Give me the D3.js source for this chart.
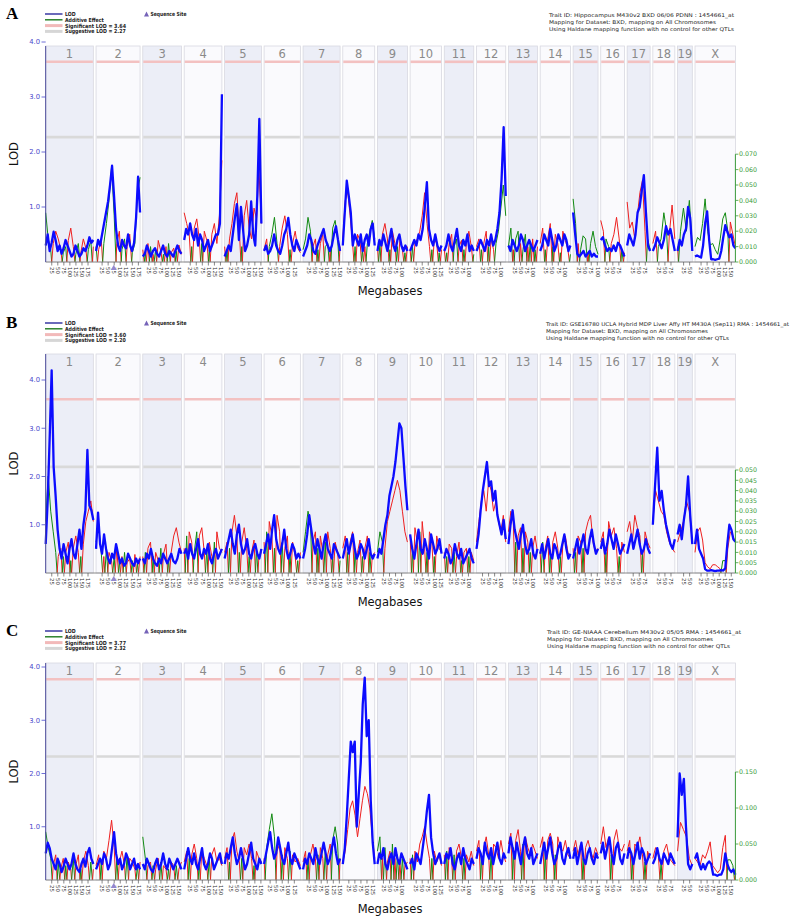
<!DOCTYPE html>
<html>
<head>
<meta charset="utf-8">
<script src="https://cdn.jsdelivr.net/npm/d3@7"></script>
<style>
  body { margin: 0; background: #fff; }
  svg { display: block; }
  text { font-family: "DejaVu Sans", Verdana, sans-serif; }
</style>
</head>
<body>
<svg id="chart" width="800" height="917"></svg>
<script>
const chromosomes = ["1","2","3","4","5","6","7","8","9","10","11","12","13","14","15","16","17","18","19","X"];
const chrLengths = [197,182,160,156,152,150,153,132,124,130,122,121,120,125,103,98,95,91,61,167]; // Mb
const mbTicks = [25,50,75,100,125,150,175];
const lodTicks = [1,2,3,4];
const sequenceSite = {chr: 1, mb: 73}; // index into chromosomes

// LOD profiles, one array per chromosome, evenly spaced along it
const lodA = [
  [.3,.5,.2,.35,.55,.4,.2,.3,.15,.25,.4,.3,.2,.1,.15,.3,.2,.1,.15,.25,.2,.3,.45,.35,.4],
  [.2,.4,.3,.5,.7,.9,1.1,1.4,1.75,1.2,.6,.3,.2,.4,.3,.25,.5,.3,.2,.35,.8,1.55,.9],
  [.1,.15,.3,.2,.1,.2,.25,.15,.1,.2,.3,.15,.1,.2,.15,.1,.2,.3,.2,.15],
  [.4,.6,.5,.7,.5,.4,.6,.3,.5,.4,.2,.3,.4,.2,.3,.4,.5,.5,.7,3.05],
  [.1,.2,.3,.2,.5,.8,1.05,.4,1.0,.6,.2,.3,.5,1.1,.5,.3,1.2,2.6,.7],
  [.2,.3,.15,.2,.3,.5,.3,.2,.15,.3,.5,.6,.8,.5,.3,.2,.4,.3,.2],
  [.1,.2,.3,.5,.4,.2,.15,.3,.4,.5,.6,.4,.3,.2,.3,.5,.65,.4,.2],
  [.3,.9,1.48,1.2,.9,.3,.5,.4,.3,.5,.2,.4,.5,.3,.6,.7,.3],
  [.2,.4,.3,.5,.35,.2,.4,.6,.3,.2,.4,.5,.3,.2,.3,.2],
  [.2,.3,.4,.3,.5,.4,.6,1.0,1.45,.6,.4,.3,.5,.3,.2,.3],
  [.2,.3,.5,.3,.2,.4,.6,.3,.2,.4,.3,.5,.2,.3,.2],
  [.2,.3,.4,.3,.2,.4,.3,.5,.3,.4,.6,.9,1.5,2.45,1.2],
  [.3,.2,.4,.3,.2,.3,.5,.4,.2,.3,.4,.3,.2,.3,.4],
  [.2,.3,.5,.4,.3,.6,.4,.2,.3,.5,.4,.3,.5,.4,.2,.3],
  [.9,.5,.15,.1,.15,.2,.1,.15,.2,.1,.15,.1,.1],
  [.4,.45,.3,.2,.25,.2,.3,.2,.35,.3,.2,.1],
  [.3,.5,.4,.3,.5,.9,1.0,1.3,1.58,.9,.3,.2],
  [.2,.3,.45,.35,.25,.4,.65,.5,.6,.4,.2],
  [.2,.4,.3,.5,.6,1.0,.8,.2],
  [.1,.12,.1,.08,.3,.7,.92,.4,.05,.05,.04,.05,.06,.2,.45,.67,.55,.45,.5,.3,.25]
];
// additive effect x 0.001 (positive red, negative green)
const addA = [
  [-32,-15,-8,12,20,15,8,-6,-10,14,22,10,-5,-12,6,15,9,-8,-14,10],
  [-10,8,15,-12,-25,-40,-62,-30,12,20,-8,-15,10,18,-6,-12,-45,-55],
  [8,-6,12,-10,5,-8,14,7,-5,10,-12,6,9,-7,11,5],
  [32,25,18,-10,22,28,15,-12,20,14,-8,18,25,12,30,66],
  [10,-8,15,25,38,45,20,-10,30,40,22,15,35,28,60,25],
  [8,15,-10,-18,-29,-12,10,22,30,18,-8,12,20,9,6],
  [-8,-15,-29,-20,10,15,-8,12,18,-10,-12,8,-22,-27,-15,10],
  [15,40,46,30,12,-10,18,14,-8,10,-12,-20,-27,-15],
  [10,-12,18,25,15,-8,20,12,-10,15,8,-6,10],
  [8,-10,12,15,20,30,45,25,10,-8,15,12,-6,8],
  [8,-6,12,18,-10,-15,10,14,-8,12,20,10,-5],
  [10,15,-8,12,20,-10,15,8,-12,-20,-35,-50,-30],
  [-10,-22,8,-15,-20,12,-8,-18,10,-12,15,-8,10],
  [12,22,-8,15,25,-10,18,12,-6,20,14,8,-5],
  [-41,-25,12,-8,-17,-15,6,-12,-20,-10,-5],
  [27,20,-15,-10,12,18,29,15,-8,6],
  [39,22,26,15,30,45,53,20,-15,-8],
  [12,20,-10,-15,-32,-20,18,37,15],
  [10,-20,-35,-20,-40,-10],
  [-10,-16,-14,-25,-41,-20,-11,-12,-8,-5,-15,-28,-32,-20,26,18,10]
];

const lodB = [
  [.6,1.5,2.8,4.2,2.2,1.6,.9,.5,.3,.6,.4,.2,.5,.7,.4,.3,.6,.9,.5,1.0,1.3,2.55,1.4,1.3,1.1],
  [.5,1.25,.6,.4,.8,.5,.3,.2,.4,.3,.6,.4,.2,.3,.15,.2,.4,.3,.2,.15,.3,.2,.3],
  [.3,.2,.4,.3,.5,.3,.2,.15,.3,.2,.4,.3,.2,.3,.4,.25,.2,.3,.5,.4],
  [.4,.5,.3,.6,.4,.3,.5,.7,.4,.3,.5,.4,.6,.3,.2,.4,.5,.3,.4,.5],
  [.3,.5,.7,.9,.6,.4,.8,1.0,.6,.4,.5,.7,.4,.3,.5,.6,.4,.3,.5],
  [.4,.6,.8,.5,.9,1.2,.7,.5,.4,.6,.9,.5,.3,.4,.6,.5,.3,.4,.3],
  [.3,.5,.8,1.2,.9,.6,.4,.7,.5,.3,.6,.8,.5,.4,.3,.6,.5,.4,.3],
  [.3,.5,.7,.4,.6,.8,.5,.3,.4,.6,.5,.3,.5,.7,.4,.3,.4],
  [.3,.5,.4,.7,1.0,1.2,1.6,1.8,2.0,2.3,2.7,3.1,3.0,2.4,1.8,1.3],
  [.8,.5,.3,.6,.9,.5,.4,.7,.5,.3,.8,.6,.4,.5,.7,.4],
  [.3,.5,.4,.2,.3,.6,.4,.3,.5,.2,.3,.4,.5,.3,.2],
  [.5,.8,1.3,1.7,2.0,2.3,1.8,1.9,1.5,1.7,1.2,1.0,.8,1.1,.7],
  [.6,1.0,1.3,.9,.7,.5,.8,1.0,.6,.4,.5,.7,.4,.3,.5],
  [.4,.6,.3,.5,.7,.4,.3,.6,.5,.3,.4,.6,.8,.5,.3,.4],
  [.3,.5,.7,.4,.6,.8,.5,.4,.7,.9,.6,.4,.5],
  [.5,.7,.4,.6,.9,.7,.5,.8,.6,.4,.5,.6],
  [.4,.6,.8,.5,.7,.9,.6,.4,.5,.7,.5,.4],
  [1.0,1.8,2.6,1.5,1.7,1.3,1.0,.8,.6,.5,.7],
  [.8,1.0,.7,1.1,1.4,2.0,1.2,.6],
  [.6,.9,.5,.4,.3,.08,.05,.05,.06,.05,.04,.05,.05,.06,.05,.1,.6,1.0,.9,.7,.65]
];
const addB = [
  [-25,-47,-30,-20,-10,8,12,-8,10,15,-6,12,18,10,-8,14,25,30,35,25],
  [-15,-23,-10,8,-12,10,6,-8,12,-6,8,-10,5,7,-6,9,-5,8],
  [8,-10,12,15,-8,10,6,-12,9,14,-7,10,18,22,15,10],
  [12,-18,20,15,-10,-20,18,22,10,-12,15,8,-15,20,12,10],
  [10,15,-12,20,28,18,-10,15,22,12,-8,10,16,-12,8,10],
  [15,-20,25,18,-12,28,20,-15,12,18,-10,15,8,-6,10],
  [-10,-20,-30,-25,15,20,-12,18,10,-15,20,12,-8,15,10,-6],
  [12,18,-10,15,20,-12,10,16,-8,12,18,-10,8,10],
  [-10,-20,-15,12,25,30,35,40,45,40,30,20,15],
  [18,-12,22,15,-20,25,12,-10,20,15,-8,18,12,10],
  [10,-8,14,12,-10,8,15,-6,10,12,-8,10,6],
  [15,25,35,40,30,45,40,30,35,25,20,28,15],
  [20,30,25,-15,18,22,-12,20,15,-10,12,18,10],
  [10,-15,12,18,-10,15,20,12,-8,14,18,10,8],
  [12,-10,18,15,-12,20,25,28,15,10,12],
  [15,20,-10,25,18,22,12,-8,15,10],
  [20,25,15,28,22,18,-10,20,15,12],
  [25,40,35,30,28,20,15,12,10],
  [15,20,25,35,30,15],
  [10,20,22,16,5,3,2,4,4,3,2,-6,-6,12,20,18,15]
];

const lodC = [
  [.5,.7,.6,.4,.3,.2,.4,.3,.15,.25,.4,.3,.2,.3,.5,.3,.2,.15,.3,.4,.25,.5,.6,.4,.3],
  [.2,.3,.4,.3,.5,.4,.2,.3,.6,.9,.5,.3,.4,.2,.3,.5,.4,.2,.3,.4,.2,.3,.2],
  [.3,.2,.4,.3,.2,.15,.3,.4,.2,.3,.5,.3,.2,.4,.3,.2,.3,.4,.3,.2],
  [.2,.4,.6,.4,.3,.5,.3,.2,.4,.6,.3,.2,.3,.5,.4,.2,.3,.4,.5,.3],
  [.3,.5,.4,.6,.8,.5,.3,.4,.6,.4,.2,.3,.5,.7,.4,.3,.2,.4,.3],
  [.3,.5,.7,.9,.6,.4,.5,.8,.6,.4,.3,.5,.7,.4,.3,.5,.4,.3,.2],
  [.2,.4,.3,.5,.4,.3,.6,.4,.3,.5,.7,.5,.3,.4,.6,.8,.5,.3,.4],
  [.3,.6,1.2,1.9,2.6,2.4,2.6,1.0,1.6,2.2,3.3,3.8,2.7,3.0,1.5,.7,.3],
  [.3,.5,.4,.6,.3,.2,.4,.5,.3,.6,.4,.3,.5,.4,.3,.2],
  [.3,.4,.2,.5,.4,.3,.6,.9,1.3,1.6,.8,.5,.3,.4,.5,.3],
  [.3,.5,.4,.6,.3,.2,.4,.5,.3,.6,.4,.3,.2,.4,.3],
  [.4,.6,.5,.3,.7,.5,.4,.6,.3,.5,.7,.4,.3,.5,.4],
  [.5,.8,.6,.4,.7,.5,.3,.6,.8,.5,.4,.6,.3,.4,.5],
  [.3,.5,.7,.4,.6,.8,.5,.3,.4,.6,.7,.4,.3,.5,.6,.4],
  [.4,.6,.3,.5,.7,.4,.3,.5,.6,.4,.3,.5,.4],
  [.5,.7,.4,.6,.8,.5,.3,.6,.7,.4,.3,.5],
  [.4,.6,.5,.3,.5,.7,.4,.6,.5,.3,.4,.5],
  [.3,.4,.6,.4,.3,.5,.4,.3,.5,.4,.3],
  [.8,2.0,1.6,1.9,1.0,.3,.2,.3],
  [.4,.5,.3,.2,.3,.2,.3,.35,.3,.1,.1,.08,.1,.1,.2,.5,.3,.2,.15,.2,.1]
];
const addC = [
  [-67,-45,-30,20,35,-25,15,30,-20,25,15,-30,20,35,-15,25,40,20,-25,15],
  [20,35,-25,40,30,55,83,45,-30,25,40,20,-35,30,25,15,-20,25],
  [-60,-30,20,25,-20,15,30,-25,20,15,-15,25,20,-20,15,25],
  [25,40,-30,35,50,30,-25,40,30,20,-30,35,45,25,30,20],
  [30,45,-25,55,66,40,25,-30,45,35,50,30,-20,40,30,25],
  [30,-45,-70,-92,-60,40,50,-35,45,30,-40,35,25,30,20],
  [25,40,-30,35,50,30,-35,45,30,-40,35,50,-55,-74,-50,30],
  [25,40,70,100,110,90,60,85,110,130,120,100,60,30],
  [-40,-60,30,-45,25,40,-50,30,-35,25,-30,20,25],
  [30,-35,40,25,50,60,74,50,30,-30,40,25,35,20],
  [35,-40,45,30,-35,40,50,30,-30,35,25,40,20],
  [40,55,-35,45,60,35,-40,50,45,30,55,35,25],
  [50,65,-45,55,70,40,-50,60,45,35,50,40,30],
  [45,60,-40,55,65,50,-35,60,45,40,55,35,30],
  [40,55,35,50,-30,45,55,40,30,45,35],
  [50,74,45,60,-35,55,70,45,40,50],
  [40,55,-30,50,45,60,35,-25,40,30],
  [30,45,35,-25,40,50,30,25,20],
  [40,80,70,60,30,20],
  [30,25,20,35,30,40,53,20,15,10,15,45,62,-28,-28,-20,10]
];

const addTicksA = [0,.01,.02,.03,.04,.05,.06,.07];
const addTicksB = [0,.005,.01,.015,.02,.025,.03,.035,.04,.045,.05];
const addTicksC = [0,.05,.1,.15];

const panels = [
  {letter: "A", sig: 3.64, sug: 2.27, lod: lodA, add: addA, addTicks: addTicksA,
   info: ["Trait ID: Hippocampus M430v2 BXD 06/06 PDNN : 1454661_at",
          "Mapping for Dataset: BXD, mapping on All Chromosomes",
          "Using Haldane mapping function with no control for other QTLs"]},
  {letter: "B", sig: 3.60, sug: 2.20, lod: lodB, add: addB, addTicks: addTicksB,
   info: ["Trait ID: GSE16780 UCLA Hybrid MDP Liver Affy HT M430A (Sep11) RMA : 1454661_at",
          "Mapping for Dataset: BXD, mapping on All Chromosomes",
          "Using Haldane mapping function with no control for other QTLs"]},
  {letter: "C", sig: 3.77, sug: 2.32, lod: lodC, add: addC, addTicks: addTicksC,
   info: ["Trait ID: GE-NIAAA Cerebellum M430v2 05/05 RMA : 1454661_at",
          "Mapping for Dataset: BXD, mapping on All Chromosomes",
          "Using Haldane mapping function with no control for other QTLs"]}
];

// page layout of each panel
const layout = [
  {dy: 0,   top: 46,  base: 262, lodPx: 55,    addPx: 1540, infoX: 549, infoW: [185, 167, 185]},
  {dy: 309, top: 354, base: 573, lodPx: 48.25, addPx: 2060, infoX: 546, infoW: [243, 162, 183]},
  {dy: 617, top: 663, base: 880, lodPx: 53.25, addPx: 720,  infoX: 547, infoW: [194, 166, 183]}
];

const svg = d3.select("#chart");

// genome coordinate with a small gap between chromosomes
const gapMb = 11.2;
const chrStart = [];
let total = 0;
chrLengths.forEach(len => { chrStart.push(total); total += len + gapMb; });
total -= gapMb;
const x = d3.scaleLinear().domain([0, total]).range([45.7, 735.4]);

const blue = "#0c0cff", red = "#ee2020", green = "#128a12";

function toPoints(vals, i, scale) {
  const len = chrLengths[i];
  return vals.map((v, j) => [chrStart[i] + j * len / (vals.length - 1), v * scale]);
}

// split a signed profile into same-sign runs, plotted as absolute values
function signRuns(pts) {
  const runs = [];
  let cur = null;
  pts.forEach(([p, v], j) => {
    const s = v >= 0 ? 1 : -1;
    if (!cur) { cur = {sign: s, pts: [[p, Math.abs(v)]]}; return; }
    if (s === cur.sign) { cur.pts.push([p, Math.abs(v)]); return; }
    const [q, w] = pts[j - 1];
    const cx = q + (w / (w - v)) * (p - q);
    cur.pts.push([cx, 0]);
    runs.push(cur);
    cur = {sign: s, pts: [[cx, 0], [p, Math.abs(v)]]};
  });
  runs.push(cur);
  return runs;
}

function drawPanel(p, L) {
  const g = svg.append("g");
  const yLod = d3.scaleLinear().domain([0, 1]).range([L.base, L.base - L.lodPx]);
  const yAdd = d3.scaleLinear().domain([0, 1]).range([L.base, L.base - L.addPx]);

  g.append("text")
    .attr("x", 6).attr("y", L.dy + 19)
    .style("font-family", "'Liberation Serif', 'Times New Roman', serif")
    .attr("font-weight", "bold").attr("font-size", 17)
    .text(p.letter);

  // legend
  const legend = [
    {label: "LOD", color: "#2a2a9c", w: 1.4, tl: 10.7},
    {label: "Additive Effect", color: "#1d7a1d", w: 1.4, tl: 38.7},
    {label: "Significant LOD = " + p.sig.toFixed(2), color: "#f2b9b9", w: 3, tl: 61},
    {label: "Suggestive LOD = " + p.sug.toFixed(2), color: "#d6d6d6", w: 3, tl: 60.7}
  ];
  legend.forEach((d, i) => {
    const yy = L.dy + 14 + i * 5.8;
    g.append("line").attr("x1", 45).attr("x2", 62.5).attr("y1", yy).attr("y2", yy)
      .attr("stroke", d.color).attr("stroke-width", d.w);
    g.append("text").attr("x", 65).attr("y", yy + 2)
      .attr("font-size", 5.6).attr("font-weight", "bold").attr("fill", "#222")
      .attr("textLength", d.tl).attr("lengthAdjust", "spacingAndGlyphs")
      .text(d.label);
  });
  g.append("path")
    .attr("d", `M144,${L.dy + 16.5}L149,${L.dy + 16.5}L146.5,${L.dy + 11.5}Z`)
    .attr("fill", "#7563b8");
  g.append("text").attr("x", 150.5).attr("y", L.dy + 16)
    .attr("font-size", 5.6).attr("font-weight", "bold").attr("fill", "#222")
    .attr("textLength", 36).attr("lengthAdjust", "spacingAndGlyphs")
    .text("Sequence Site");

  // trait information
  p.info.forEach((line, i) => {
    g.append("text").attr("x", L.infoX).attr("y", L.dy + 16.5 + i * 7.3)
      .attr("font-size", 5.2).attr("fill", "#222")
      .attr("textLength", L.infoW[i]).attr("lengthAdjust", "spacingAndGlyphs")
      .text(line);
  });

  // chromosome columns
  const cols = g.append("g").selectAll("g").data(chromosomes).join("g");
  cols.append("rect")
    .attr("x", (d, i) => x(chrStart[i]))
    .attr("y", L.top)
    .attr("width", (d, i) => x(chrStart[i] + chrLengths[i]) - x(chrStart[i]))
    .attr("height", L.base - L.top)
    .attr("fill", (d, i) => i % 2 === 0 ? "#eceef7" : "#fafafd")
    .attr("stroke", "#d8d8e0").attr("stroke-width", 0.8);
  cols.append("text")
    .attr("x", (d, i) => x(chrStart[i] + chrLengths[i] / 2))
    .attr("y", L.top + 11.5)
    .attr("text-anchor", "middle").attr("font-size", 11.5).attr("fill", "#8a8a8a")
    .text(d => d);
  [[p.sig, "#f3c1c1"], [p.sug, "#d9d9d9"]].forEach(([v, c]) => {
    cols.append("line")
      .attr("x1", (d, i) => x(chrStart[i]) + 0.5)
      .attr("x2", (d, i) => x(chrStart[i] + chrLengths[i]) - 0.5)
      .attr("y1", yLod(v)).attr("y2", yLod(v))
      .attr("stroke", c).attr("stroke-width", 2.6);
  });

  // additive effect
  const line = d3.line().x(d => x(d[0])).y(d => yAdd(d[1]));
  p.add.forEach((vals, i) => {
    signRuns(toPoints(vals, i, 0.001)).forEach(run => {
      g.append("path").attr("d", line(run.pts))
        .attr("fill", "none").attr("stroke", run.sign > 0 ? red : green)
        .attr("stroke-width", 1).attr("stroke-linejoin", "round");
    });
  });

  // LOD
  const lodLine = d3.line().x(d => x(d[0])).y(d => yLod(d[1]));
  p.lod.forEach((vals, i) => {
    g.append("path").attr("d", lodLine(toPoints(vals, i, 1)))
      .attr("fill", "none").attr("stroke", blue)
      .attr("stroke-width", 2.3).attr("stroke-linejoin", "round");
  });

  // x axis: baseline, Mb ticks
  g.append("line").attr("x1", x(0)).attr("x2", x(total))
    .attr("y1", L.base).attr("y2", L.base).attr("stroke", "#8a8a8a");
  chrLengths.forEach((len, i) => {
    mbTicks.filter(t => t < len).forEach(t => {
      const xx = x(chrStart[i] + t);
      g.append("line").attr("x1", xx).attr("x2", xx)
        .attr("y1", L.base).attr("y2", L.base + 3.5).attr("stroke", "#555").attr("stroke-width", 0.7);
      g.append("text").attr("transform", `translate(${xx - 1.8},${L.base + 5}) rotate(90)`)
        .attr("font-size", 5.4).attr("fill", "#333").text(t);
    });
  });
  const sx = x(chrStart[sequenceSite.chr] + sequenceSite.mb);
  g.append("path")
    .attr("d", `M${sx - 3},${L.base + 8}L${sx + 3},${L.base + 8}L${sx},${L.base + 3}Z`)
    .attr("fill", "#9387cf");
  g.append("text").attr("x", 390).attr("y", L.base + 32.5)
    .attr("text-anchor", "middle").attr("font-size", 11.5).attr("fill", "#111")
    .text("Megabases");

  // left LOD axis
  g.append("line").attr("x1", x(0)).attr("x2", x(0))
    .attr("y1", L.top).attr("y2", L.base).attr("stroke", "#4a4a9a");
  lodTicks.forEach(t => {
    g.append("line").attr("x1", 41.5).attr("x2", x(0))
      .attr("y1", yLod(t)).attr("y2", yLod(t)).attr("stroke", "#4a4acc").attr("stroke-width", 0.8);
    g.append("text").attr("x", 40).attr("y", yLod(t) + 2.3)
      .attr("text-anchor", "end").attr("font-size", 6.8).attr("fill", "#4a4acc")
      .text(t.toFixed(1));
  });
  g.append("text")
    .attr("transform", `translate(18,${(L.top + L.base) / 2}) rotate(-90)`)
    .attr("text-anchor", "middle").attr("font-size", 11.5).attr("fill", "#111")
    .text("LOD");

  // right additive axis
  const addMax = d3.max(p.addTicks);
  const rx = x(total);
  g.append("line").attr("x1", rx).attr("x2", rx)
    .attr("y1", L.base).attr("y2", yAdd(addMax)).attr("stroke", "#3c9c3c");
  p.addTicks.forEach(t => {
    g.append("line").attr("x1", rx).attr("x2", rx + 3)
      .attr("y1", yAdd(t)).attr("y2", yAdd(t)).attr("stroke", "#3c9c3c").attr("stroke-width", 0.8);
    g.append("text").attr("x", rx + 3.5).attr("y", yAdd(t) + 2.2)
      .attr("font-size", 6.3).attr("fill", "#3c9c3c")
      .text(t.toFixed(3));
  });
}

panels.forEach((p, i) => drawPanel(p, layout[i]));
</script>
</body>
</html>
